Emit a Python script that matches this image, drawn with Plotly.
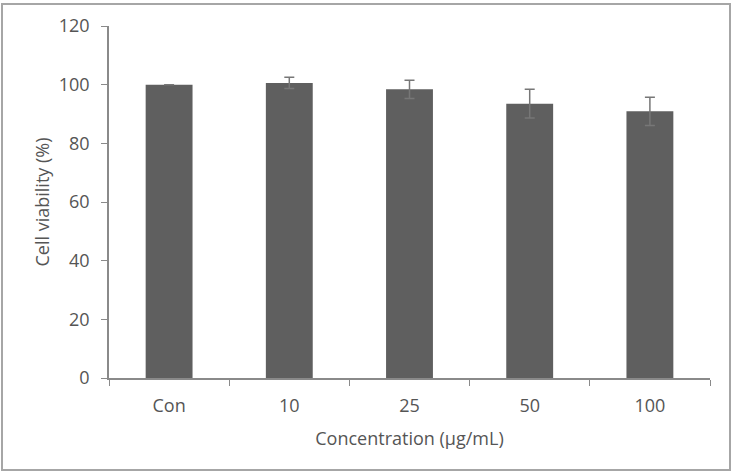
import plotly.graph_objects as go

categories = ["Con", "10", "25", "50", "100"]
viability = [100.0, 100.6, 98.4, 93.5, 90.9]
errors = [0.0, 1.9, 3.1, 4.9, 4.8]

W, H = 733, 473
ml, mr, mt, mb = 109, 23, 26, 95
pw, ph = W - ml - mr, H - mt - mb

fig = go.Figure()
fig.add_trace(go.Bar(
    x=categories, y=viability,
    width=0.39,
    marker=dict(color="#5f5f5f", line=dict(width=0)),
    error_y=dict(type="data", array=errors, visible=True,
                 color="#777777", thickness=1.5, width=5),
))

font_family = "'Open Sans', Lato, sans-serif"
txt = "#555555"
fig.update_layout(
    width=W, height=H,
    margin=dict(l=ml, r=mr, t=mt, b=mb),
    paper_bgcolor="white", plot_bgcolor="white",
    showlegend=False,
    font=dict(family=font_family, color=txt, size=18),
    xaxis=dict(
        type="category",
        showline=True, linecolor="#8a8a8a", linewidth=1.5,
        ticks="outside", tickson="boundaries", ticklen=6, tickcolor="#8a8a8a",
        tickwidth=1,
        tickfont=dict(size=18, color=txt),
        ticklabelstandoff=11,
        title=dict(text="Concentration (µg/mL)", font=dict(size=18, color=txt), standoff=16),
        showgrid=False, zeroline=False,
    ),
    yaxis=dict(
        range=[0, 120], dtick=20,
        showline=True, linecolor="#8a8a8a", linewidth=1.5,
        ticks="outside", ticklen=6, tickcolor="#8a8a8a", tickwidth=1,
        tickfont=dict(size=18, color=txt),
        ticklabelstandoff=8,
        title=dict(text="Cell viability (%)", font=dict(size=18, color=txt), standoff=4),
        showgrid=False, zeroline=False,
    ),
    shapes=[dict(
        type="rect", xref="paper", yref="paper",
        x0=(2 - ml) / pw, x1=(730 - ml) / pw,
        y0=(H - mb - 470) / ph, y1=(H - mb - 4) / ph,
        line=dict(color="#a6a6a6", width=2), fillcolor="rgba(0,0,0,0)",
        layer="below",
    )],
)

fig.write_html("out.html")
